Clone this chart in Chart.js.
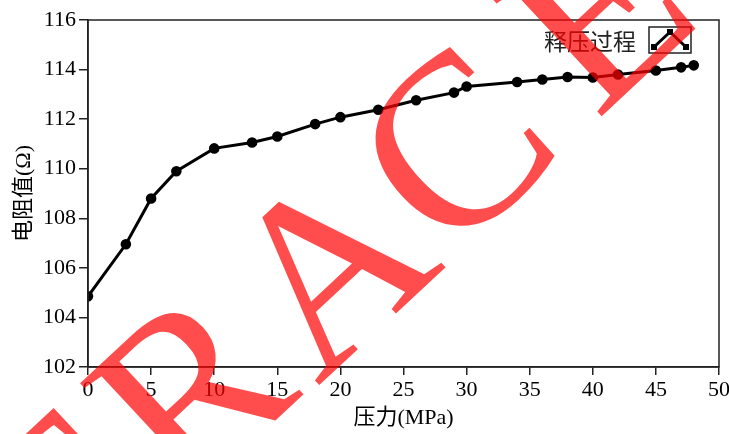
<!DOCTYPE html>
<html>
<head>
<meta charset="utf-8">
<script src="https://cdn.jsdelivr.net/npm/chart.js@4.4.1/dist/chart.umd.min.js"></script>
<style>
  html, body { margin: 0; padding: 0; background: #fff; }
  canvas { display: block; }
</style>
</head>
<body>
<canvas id="c" width="729" height="434"></canvas>
<script>
// ---- data ----
const pressure   = [0, 3, 5, 7, 10, 13, 15, 18, 20, 23, 26, 29, 30, 34, 36, 38, 40, 42, 45, 47, 48];
const resistance = [104.85, 106.95, 108.8, 109.9, 110.82, 111.06, 111.3, 111.8, 112.08, 112.38, 112.76,
                    113.07, 113.32, 113.5, 113.6, 113.7, 113.68, 113.8, 113.96, 114.09, 114.17];
const seriesName = '释压过程';
const xTitle = '压力(MPa)';
const yTitle = '电阻值(Ω)';
const xRange = [0, 50, 5];
const yRange = [102, 116, 2];
const WATERMARK = 'TRACE';

const serif = '"Liberation Serif", "Noto Sans CJK SC", serif';

const frame = {
  id: 'frame',
  afterDraw(chart) {
    const { ctx, chartArea: a } = chart;
    ctx.save();
    ctx.strokeStyle = '#222';
    ctx.lineWidth = 1.5;
    ctx.strokeRect(a.left, a.top, a.right - a.left, a.bottom - a.top);
    ctx.restore();
  }
};

const legendBox = {
  id: 'legendBox',
  afterDraw(chart) {
    const ctx = chart.ctx;
    const a = chart.chartArea;
    ctx.save();
    ctx.font = '23px "Noto Sans CJK SC"';
    ctx.fillStyle = '#222';
    ctx.textAlign = 'right';
    ctx.textBaseline = 'middle';
    const bx = a.right - 70, by = a.top + 7, bw = 42, bh = 26;
    ctx.fillText(seriesName, bx - 13, by + bh / 2 + 1);
    ctx.strokeStyle = '#222';
    ctx.lineWidth = 1.5;
    ctx.strokeRect(bx, by, bw, bh);
    ctx.strokeStyle = '#000';
    ctx.lineWidth = 3;
    ctx.beginPath();
    ctx.moveTo(bx + 5, by + 20);
    ctx.lineTo(bx + 21, by + 5);
    ctx.lineTo(bx + 37, by + 20);
    ctx.stroke();
    ctx.fillStyle = '#000';
    [[bx + 5, by + 20], [bx + 21, by + 5], [bx + 37, by + 20]].forEach(p => {
      ctx.fillRect(p[0] - 3, p[1] - 3, 6, 6);
    });
    ctx.restore();
  }
};

const watermark = {
  id: 'watermark',
  afterDraw(chart) {
    const ctx = chart.ctx;
    ctx.save();
    ctx.font = '245px "Liberation Serif"';
    ctx.fillStyle = 'rgba(255,0,0,0.7)';
    ctx.textBaseline = 'alphabetic';
    const ang = -43 * Math.PI / 180;
    const dx = Math.cos(ang), dy = Math.sin(ang);
    const sp = 25;
    const shift = [0, 0, -10, -30, -15];
    const drop = [0, 0, 4, 2, 0];
    const wT = ctx.measureText(WATERMARK[0]).width;
    const wR = ctx.measureText(WATERMARK[1]).width;
    const back = wT + wR + 2 * sp;
    ctx.translate(322 - back * dx, 377 - back * dy);
    ctx.rotate(ang);
    let x = 0;
    [...WATERMARK].forEach((ch, i) => {
      ctx.fillText(ch, x + shift[i], drop[i]);
      x += ctx.measureText(ch).width + sp;
    });
    ctx.restore();
  }
};

new Chart(document.getElementById('c'), {
  type: 'scatter',
  data: {
    datasets: [{
      label: seriesName,
      data: pressure.map((p, i) => ({ x: p, y: resistance[i] })),
      showLine: true,
      borderColor: '#000',
      backgroundColor: '#000',
      borderWidth: 3,
      pointRadius: 3.8,
      pointHoverRadius: 3.8,
      tension: 0
    }]
  },
  options: {
    responsive: false,
    animation: false,
    events: [],
    layout: { padding: { top: 20, right: 10, left: 0, bottom: 0 } },
    plugins: { legend: { display: false }, tooltip: { enabled: false } },
    scales: {
      x: {
        type: 'linear',
        min: xRange[0], max: xRange[1],
        afterFit(s) { s.height = 67; s.paddingRight = 0; s.paddingLeft = 0; },
        ticks: { stepSize: xRange[2], color: '#000', font: { family: serif, size: 22 }, padding: 2, maxRotation: 0 },
        grid: { drawOnChartArea: false, drawTicks: true, tickLength: 8, color: '#222', lineWidth: 1.5 },
        border: { color: '#222', width: 1.5 },
        title: { display: true, text: xTitle, color: '#000', font: { family: serif, size: 22 }, padding: { top: 0, bottom: 3 } }
      },
      y: {
        type: 'linear',
        min: yRange[0], max: yRange[1],
        afterFit(s) { s.width = 88; },
        ticks: { stepSize: yRange[2], color: '#000', font: { family: serif, size: 22 }, padding: 3 },
        grid: { drawOnChartArea: false, drawTicks: true, tickLength: 9, color: '#222', lineWidth: 1.5 },
        border: { color: '#222', width: 1.5 },
        title: { display: true, text: yTitle, color: '#000', font: { family: serif, size: 22 }, padding: { top: 11, bottom: 0 } }
      }
    }
  },
  plugins: [frame, legendBox, watermark]
});
</script>
</body>
</html>
